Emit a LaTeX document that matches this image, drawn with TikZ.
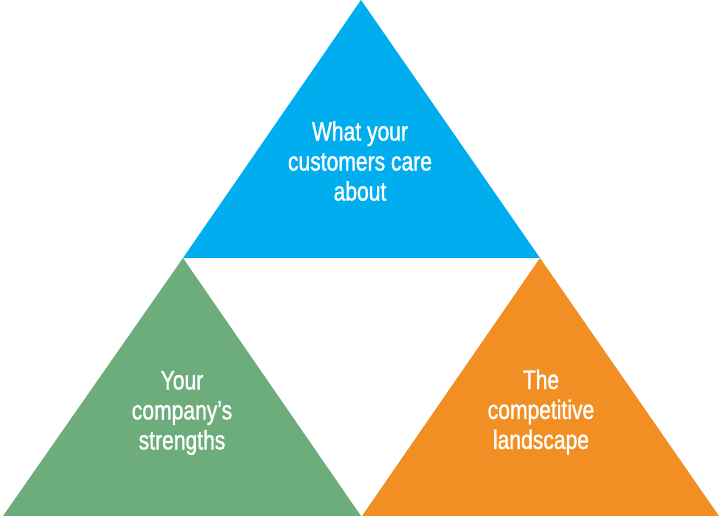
\documentclass[tikz,border=0pt]{standalone}
\usepackage{fontspec}
\setmainfont[FakeStretch=0.79,FakeBold=1.2]{Liberation Sans}
\definecolor{custblue}{RGB}{0,174,239}
\definecolor{strgreen}{RGB}{108,173,123}
\definecolor{comporange}{RGB}{241,143,36}
\tikzset{every picture/.style={line width=0.75pt}}
\tikzset{label text/.style={text=white,align=center,font=\fontsize{20}{22.5}\selectfont}}
\begin{document}
\begin{tikzpicture}[x=0.75pt,y=0.75pt,yscale=-1,xscale=1]
	\useasboundingbox (0,0) rectangle (720,516); %diagram is 720 by 516

	%Shape: Triangle [id:customers]
	\fill [custblue] (361,0) -- (540,258) -- (183,258) -- cycle ;
	%Shape: Triangle [id:strengths]
	\fill [strgreen] (183,258) -- (361,516) -- (3,516) -- cycle ;
	%Shape: Triangle [id:landscape]
	\fill [comporange] (540,258) -- (719,516) -- (362,516) -- cycle ;

	% Text Node
	\draw (360,161) node [label text] (customers) {What your\\customers care\\about};
	% Text Node
	\draw (182,413) node [label text] (strengths) {Your\\company's\\strengths};
	% Text Node
	\draw (541,412) node [label text] (landscape) {The\\competitive\\landscape};

\end{tikzpicture}
\end{document}
